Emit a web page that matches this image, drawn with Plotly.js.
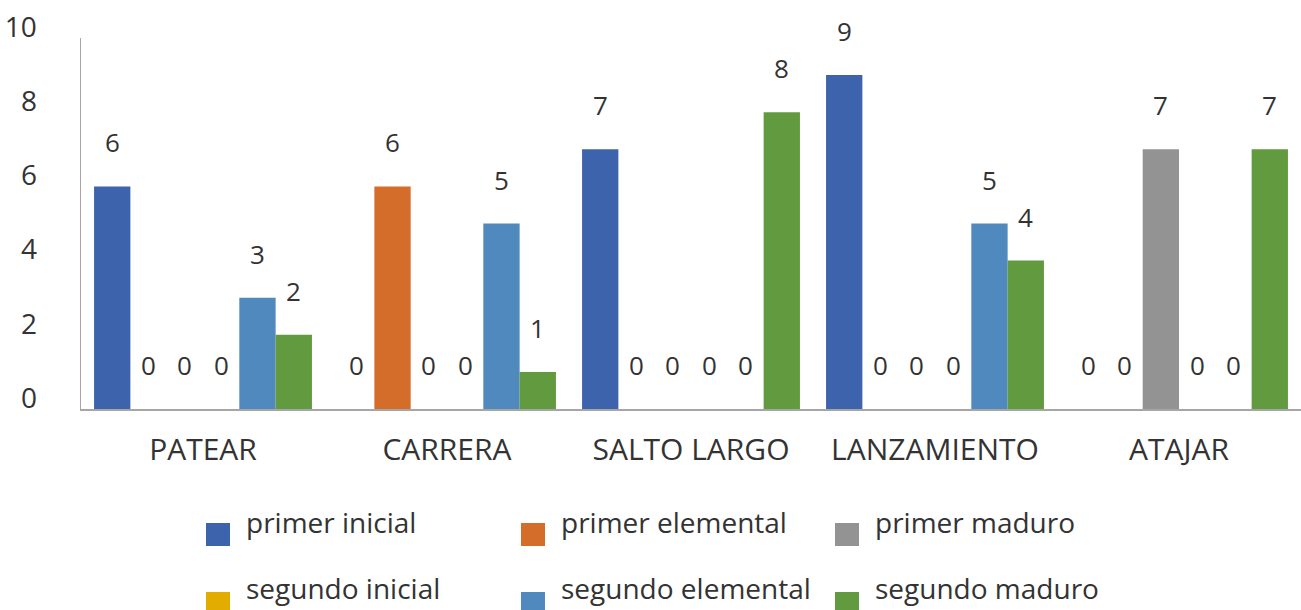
<!DOCTYPE html>
<html>
<head>
<meta charset="utf-8">
<script src="https://cdn.plot.ly/plotly-3.0.1.min.js"></script>
<style>
  html, body { margin: 0; padding: 0; background: #ffffff; }
  #chart { width: 1301px; height: 610px; }
</style>
</head>
<body>
<div id="chart"></div>
<script>
// Categories (x axis)
const categories = ['PATEAR', 'CARRERA', 'SALTO LARGO', 'LANZAMIENTO', 'ATAJAR'];

// Series values, one array per series, in category order
const primerInicial    = [6, 0, 7, 9, 0];
const primerElemental  = [0, 6, 0, 0, 0];
const primerMaduro     = [0, 0, 0, 0, 7];
const segundoInicial   = [0, 0, 0, 0, 0];
const segundoElemental = [3, 5, 0, 5, 0];
const segundoMaduro    = [2, 1, 8, 4, 7];

// Series names as shown in the legend
const seriesNames = ['primer inicial', 'primer elemental', 'primer maduro',
                     'segundo inicial', 'segundo elemental', 'segundo maduro'];

// Y axis tick values
const yTicks = [0, 2, 4, 6, 8, 10];

// ---- styling ----
const seriesValues = [primerInicial, primerElemental, primerMaduro,
                      segundoInicial, segundoElemental, segundoMaduro];
const seriesColors = ['#3e63ad', '#d46d2a', '#939393', '#e3ac00', '#4f89bd', '#629a3f'];
const FONT = 'Open Sans, Noto Sans, sans-serif';
const TEXT = '#333333';
const BARGAP = 0.107;

const W = 1301, H = 610;
const M = { l: 81, r: 0, t: 38, b: 201 };
const plotW = W - M.l - M.r, plotH = H - M.t - M.b;
// pixel -> paper helpers for the legend block below the plot
const px = X => (X - M.l) / plotW;
const py = Y => (H - M.b - Y) / plotH;

const traces = seriesValues.map((vals, i) => ({
  type: 'bar',
  name: seriesNames[i],
  x: categories,
  y: vals,
  marker: { color: seriesColors[i], line: { width: 0 } },
  hoverinfo: 'x+y+name'
}));

// value labels above each bar slot
const annotations = [];
const nSeries = seriesValues.length;
const slot = (1 - BARGAP) / nSeries;
seriesValues.forEach((vals, i) => {
  vals.forEach((v, j) => {
    annotations.push({
      x: j + (i - (nSeries - 1) / 2) * slot,
      y: v,
      xref: 'x', yref: 'y',
      text: String(v),
      showarrow: false,
      xanchor: 'center', yanchor: 'middle',
      yshift: 44,
      font: { family: FONT, size: 26, color: TEXT }
    });
  });
});

// legend: 3 columns x 2 rows of swatch + label
const legCols = [206, 521, 835];
const legRows = [523, 592];
const legTextY = [522, 588];
const SW = 24, SH = 23;
const shapes = [];
seriesNames.forEach((name, i) => {
  const cx = legCols[i % 3];
  const r = Math.floor(i / 3);
  const ry = legRows[r];
  shapes.push({
    type: 'rect', xref: 'paper', yref: 'paper',
    x0: px(cx), x1: px(cx + SW), y0: py(ry), y1: py(ry + SH),
    fillcolor: seriesColors[i], line: { width: 0 }
  });
  annotations.push({
    xref: 'paper', yref: 'paper',
    x: px(cx + 38), y: py(legTextY[r]),
    xanchor: 'left', yanchor: 'middle',
    text: name, showarrow: false,
    font: { family: FONT, size: 28, color: TEXT }
  });
});

const layout = {
  width: W, height: H,
  margin: M,
  paper_bgcolor: '#ffffff',
  plot_bgcolor: '#ffffff',
  font: { family: FONT, color: TEXT },
  barmode: 'group',
  bargap: BARGAP,
  bargroupgap: 0,
  showlegend: false,
  xaxis: {
    type: 'category',
    showline: true, linecolor: '#a6a6a6', linewidth: 2,
    showgrid: false, zeroline: false, ticks: '',
    tickfont: { family: FONT, size: 30, color: TEXT },
    ticklabelstandoff: 13,
    fixedrange: true
  },
  yaxis: {
    range: [0, 10],
    tickvals: yTicks,
    ticktext: yTicks.map(String),
    showline: true, linecolor: '#a6a6a6', linewidth: 1.5,
    showgrid: false, zeroline: false, ticks: '',
    tickfont: { family: FONT, size: 28, color: TEXT },
    ticklabelshift: -11,
    ticklabelstandoff: 37,
    fixedrange: true
  },
  annotations: annotations,
  shapes: shapes
};

Plotly.newPlot('chart', traces, layout, { displayModeBar: false, staticPlot: true });
</script>
</body>
</html>
